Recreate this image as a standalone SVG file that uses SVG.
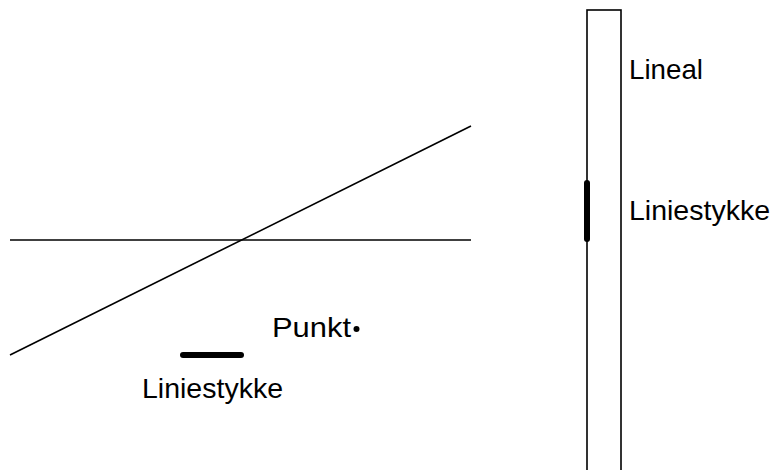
<svg xmlns="http://www.w3.org/2000/svg" width="775" height="470" viewBox="0 0 775 470">
<style>
.thin{stroke:#000;stroke-width:1.6;fill:none}
.thick{stroke:#000;stroke-width:6;stroke-linecap:round;fill:none}
text{font-family:"Liberation Sans",Arial,sans-serif;font-size:28px;fill:#000}
</style>
<rect width="775" height="470" fill="#fff"/>
<g id="connectors">
<line id="horizontal" class="thin" x1="10" y1="240" x2="471" y2="240"/>
<line id="diagonal" class="thin" x1="10" y1="355" x2="471" y2="126"/>
</g>
<g id="segment">
<line class="thick" x1="183" y1="355" x2="241" y2="355"/>
<text x="142" y="398" textLength="141" lengthAdjust="spacingAndGlyphs">Liniestykke</text>
</g>
<g id="punkt">
<text x="272" y="337" textLength="79" lengthAdjust="spacingAndGlyphs">Punkt</text>
<circle cx="356.5" cy="329" r="3" fill="#000"/>
</g>
<g id="lineal">
<rect class="thin" x="587" y="10" width="34" height="470"/>
<line class="thick" x1="587" y1="183" x2="587" y2="239"/>
<text x="629" y="79" textLength="74" lengthAdjust="spacingAndGlyphs">Lineal</text>
<text x="629" y="220" textLength="141" lengthAdjust="spacingAndGlyphs">Liniestykke</text>
</g>
</svg>
